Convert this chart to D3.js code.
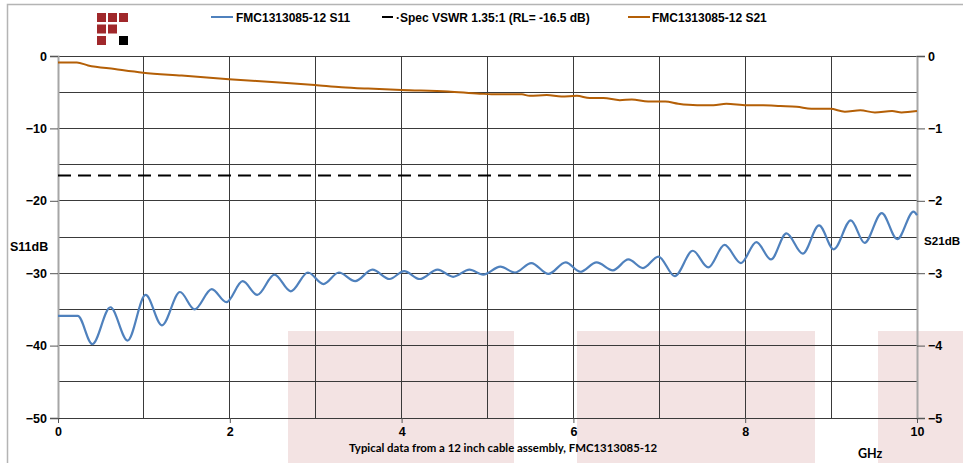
<!DOCTYPE html>
<html lang="en">
<head>
  <meta charset="utf-8" />
  <title>FMC1313085-12 S11 / S21</title>
  <script type="text/javascript" src="https://cdn.jsdelivr.net/npm/d3@7"></script>
  <style type="text/css">
body { margin: 0; background: white; }
text { font-family: "Liberation Sans", Arial, sans-serif; font-weight: bold; fill: #000; }
  </style>
</head>
<body>

<script type="text/javascript">

// frequency in GHz, levels in dB
var s11Freq = [0, 0.23, 0.40, 0.61, 0.81, 1.02, 1.21, 1.42, 1.59, 1.79, 1.96, 2.15, 2.32, 2.52, 2.71,
  2.91, 3.09, 3.27, 3.46, 3.66, 3.86, 4.03, 4.21, 4.42, 4.60, 4.79, 4.95, 5.15, 5.32, 5.51, 5.71,
  5.91, 6.08, 6.27, 6.46, 6.64, 6.81, 6.99, 7.18, 7.39, 7.57, 7.76, 7.95, 8.13, 8.30, 8.48, 8.67,
  8.86, 9.03, 9.23, 9.39, 9.59, 9.77, 9.96, 10.0];
var s11Vals = [-35.9, -35.9, -39.8, -34.7, -39.3, -33.0, -37.2, -32.6, -35.0, -32.2, -34.0, -31.1, -33.0, -30.2, -32.5,
  -29.9, -31.5, -29.9, -31.1, -29.5, -30.8, -29.7, -30.8, -29.5, -30.5, -29.5, -30.2, -29.1, -29.9, -28.6, -30.1,
  -28.5, -29.8, -28.5, -29.6, -28.1, -29.3, -27.7, -30.4, -26.9, -29.2, -26.1, -28.6, -25.7, -28.1, -24.5, -27.3,
  -23.4, -26.7, -22.7, -25.8, -21.7, -25.3, -21.5, -22.0];

var s21Freq = [0, 0.22, 0.35, 0.66, 0.99, 1.44, 1.99, 2.49, 2.99, 3.30, 3.61, 4.00, 4.54, 4.91, 5.11, 5.40,
  5.49, 5.69, 5.86, 6.04, 6.19, 6.35, 6.54, 6.68, 6.87, 7.07, 7.22, 7.44, 7.63, 7.78, 8.02, 8.21,
  8.41, 8.60, 8.77, 8.99, 9.16, 9.34, 9.51, 9.71, 9.82, 9.92, 10.0];
var s21Vals = [-0.09, -0.09, -0.13, -0.18, -0.23, -0.27, -0.32, -0.36, -0.40, -0.43, -0.45, -0.47, -0.49, -0.52, -0.53, -0.53,
  -0.55, -0.54, -0.56, -0.55, -0.58, -0.58, -0.61, -0.60, -0.63, -0.63, -0.66, -0.68, -0.68, -0.66, -0.68, -0.68,
  -0.69, -0.70, -0.73, -0.73, -0.77, -0.75, -0.78, -0.76, -0.78, -0.77, -0.76];

var specRL = -16.5;

var xTicks = [0, 2, 4, 6, 8, 10];
var yLeftTicks = [0, -10, -20, -30, -40, -50];
var yRightTicks = [0, -1, -2, -3, -4, -5];

var legendLabels = ["FMC1313085-12 S11", "\u00b7Spec VSWR 1.35:1 (RL= -16.5 dB)", "FMC1313085-12 S21"];
var footnote = "Typical data from a 12 inch cable assembly, FMC1313085-12";

var w = 963;
var h = 463;
var pad = { left: 58, right: 46, top: 56, bottom: 45 };

var blue = "#4f81bd";
var brown = "#b45f06";

var svg = d3.select("body")
    .append("svg")
    .attr("width", w)
    .attr("height", h);

// faint pink blocks in the background
var blocks = [[288, 514], [577, 815], [878, 963]];
svg.append("g").selectAll("rect")
    .data(blocks)
  .enter().append("rect")
    .attr("x", function(d) { return d[0]; })
    .attr("y", 331)
    .attr("width", function(d) { return d[1] - d[0]; })
    .attr("height", h - 331)
    .attr("fill", "#f3e3e3");

// outer frame (top and left only are visible)
svg.append("path")
    .attr("d", "M7.5," + h + "V4.5H" + w)
    .attr("fill", "none")
    .attr("stroke", "#b4b4b4")
    .attr("stroke-width", 1.5);

// logo
var logo = [[0, 0], [1, 0], [2, 0], [0, 1], [1, 1], [0, 2]];
svg.append("g").selectAll("rect")
    .data(logo)
  .enter().append("rect")
    .attr("x", function(d) { return 97 + d[0] * 11; })
    .attr("y", function(d) { return 13 + d[1] * 11.5; })
    .attr("width", 9)
    .attr("height", 9)
    .attr("fill", "#a0282b");
svg.append("rect").attr("x", 119).attr("y", 36).attr("width", 9).attr("height", 9).attr("fill", "#000");

var xScale = d3.scaleLinear().domain([0, 10]).range([pad.left, w - pad.right]);
var yLeft = d3.scaleLinear().domain([-50, 0]).range([h - pad.bottom, pad.top]);
var yRight = d3.scaleLinear().domain([-5, 0]).range([h - pad.bottom, pad.top]);

// grid
var grid = svg.append("g").attr("stroke", "#3a3a3a").attr("stroke-width", 1).attr("shape-rendering", "crispEdges");
grid.selectAll("line.h")
    .data(d3.range(-50, 1, 5))
  .enter().append("line")
    .attr("x1", pad.left).attr("x2", w - pad.right)
    .attr("y1", function(d) { return yLeft(d); })
    .attr("y2", function(d) { return yLeft(d); });
grid.selectAll("line.v")
    .data(d3.range(1, 10))
  .enter().append("line")
    .attr("y1", pad.top).attr("y2", h - pad.bottom)
    .attr("x1", function(d) { return xScale(d); })
    .attr("x2", function(d) { return xScale(d); });

// axes
var axisL = svg.append("g")
    .attr("transform", "translate(" + pad.left + ",0)")
    .call(d3.axisLeft(yLeft).tickValues(yLeftTicks).tickSize(8).tickPadding(3).tickFormat(d3.format("d")));
var axisR = svg.append("g")
    .attr("transform", "translate(" + (w - pad.right) + ",0)")
    .call(d3.axisRight(yRight).tickValues(yRightTicks).tickSize(8).tickPadding(3).tickFormat(d3.format("d")));
var axisB = svg.append("g")
    .attr("transform", "translate(0," + (h - pad.bottom) + ")")
    .call(d3.axisBottom(xScale).tickValues(xTicks).tickSize(5).tickPadding(4).tickFormat(d3.format("d")));

[axisL, axisR, axisB].forEach(function(a) {
  a.select(".domain").attr("stroke", "#a6a6a6").attr("stroke-width", 2);
  a.selectAll(".tick line").attr("stroke", "#555");
  a.selectAll("text")
      .attr("font-family", "'Liberation Sans', Arial, sans-serif")
      .attr("font-weight", "bold")
      .attr("font-size", 12.5)
      .attr("fill", "#000");
});
axisB.select(".domain").attr("stroke", "#3a3a3a").attr("stroke-width", 1);

svg.append("text").attr("x", 10).attr("y", 251).attr("font-size", 12.5).text("S11dB");
svg.append("text").attr("x", 924).attr("y", 245).attr("font-size", 11.6).text("S21dB");

// spec line
svg.append("line")
    .attr("x1", pad.left).attr("x2", w - pad.right)
    .attr("y1", yLeft(specRL)).attr("y2", yLeft(specRL))
    .attr("stroke", "#000")
    .attr("stroke-width", 2)
    .attr("stroke-dasharray", "13,7");

// series
var s11 = s11Freq.map(function(f, i) { return [f, s11Vals[i]]; });
var s21 = s21Freq.map(function(f, i) { return [f, s21Vals[i]]; });

var lineL = d3.line()
    .x(function(d) { return xScale(d[0]); })
    .y(function(d) { return yLeft(d[1]); })
    .curve(d3.curveMonotoneX);
var lineR = d3.line()
    .x(function(d) { return xScale(d[0]); })
    .y(function(d) { return yRight(d[1]); })
    .curve(d3.curveMonotoneX);

svg.append("path")
    .datum(s21)
    .attr("d", lineR)
    .attr("fill", "none")
    .attr("stroke", brown)
    .attr("stroke-width", 2);

svg.append("path")
    .datum(s11)
    .attr("d", lineL)
    .attr("fill", "none")
    .attr("stroke", blue)
    .attr("stroke-width", 2.2);

// legend
var leg = svg.append("g").attr("font-size", 12);
var legItems = [
  { x1: 211, x2: 233, tx: 236, color: blue },
  { x1: 382, x2: 393, tx: 396, color: "#000" },
  { x1: 628, x2: 650, tx: 652, color: brown }
];
legItems.forEach(function(d, i) {
  leg.append("line")
      .attr("x1", d.x1).attr("x2", d.x2)
      .attr("y1", 17).attr("y2", 17)
      .attr("stroke", d.color)
      .attr("stroke-width", 2);
  leg.append("text")
      .attr("x", d.tx)
      .attr("y", 21.5)
      .text(legendLabels[i]);
});

svg.append("text")
    .attr("x", 349)
    .attr("y", 452)
    .style("font-family", "Lato, 'Open Sans', sans-serif")
    .style("font-weight", "bold")
    .attr("font-size", 11.4)
    .text(footnote);

svg.append("text")
    .attr("x", 858)
    .attr("y", 458)
    .style("font-family", "Lato, 'Open Sans', sans-serif")
    .style("font-weight", "bold")
    .attr("font-size", 12.5)
    .text("GHz");

</script>

</body>
</html>
